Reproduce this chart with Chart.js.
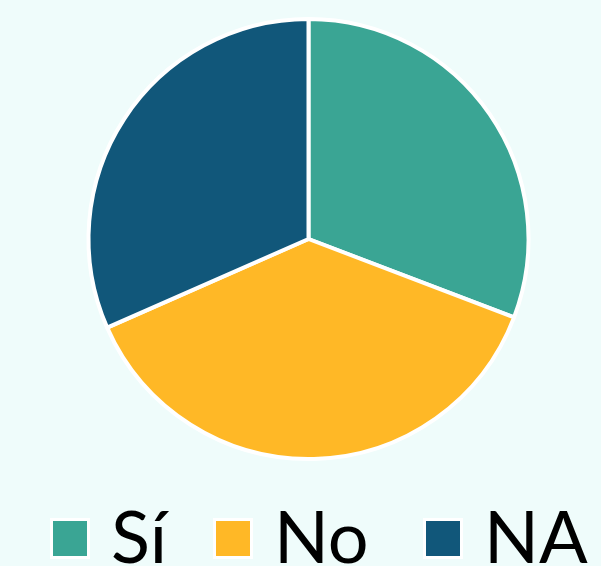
<!DOCTYPE html>
<html>
<head>
<meta charset="utf-8">
<script src="https://cdn.jsdelivr.net/npm/chart.js@4"></script>
<style>
  html, body { margin:0; padding:0; background:#effcfb; }
  #wrap { position:relative; width:601px; height:566px; overflow:hidden; }
  #c { position:absolute; left:0; top:0; }
  #legend { position:absolute; left:0; top:0; width:601px; height:566px; font-family:Lato, "Noto Sans", sans-serif; }
  .item { position:absolute; display:flex; align-items:center; height:60px; top:508px; }
  .box { width:34px; height:35px; border:3px solid #ffffff; box-sizing:content-box; }
  .lbl { font-size:72px; font-weight:400; color:#000; line-height:60px; margin-left:21px; white-space:nowrap; position:relative; top:-3px; }
</style>
</head>
<body>
<div id="wrap">
  <canvas id="c" width="601" height="566"></canvas>
  <div id="legend"></div>
</div>
<script>
const categories = ["Sí", "No", "NA"];
const values = [30.8, 37.6, 31.6];
const colors = ["#3aa594", "#ffb826", "#11577a"];
const legendLeft = [50, 213, 423];

const ctx = document.getElementById('c').getContext('2d');
new Chart(ctx, {
  type: 'pie',
  data: {
    labels: categories,
    datasets: [{
      data: values,
      backgroundColor: colors,
      borderColor: '#ffffff',
      borderWidth: 4
    }]
  },
  options: {
    responsive: false,
    animation: false,
    layout: { padding: { top: 17, bottom: 105, left: 16, right: 0 } },
    plugins: {
      legend: { display: false },
      tooltip: { enabled: false }
    }
  }
});

const lg = document.getElementById('legend');
categories.forEach((cat, i) => {
  const it = document.createElement('div');
  it.className = 'item';
  it.style.left = legendLeft[i] + 'px';
  const b = document.createElement('div');
  b.className = 'box';
  b.style.background = colors[i];
  const t = document.createElement('span');
  t.className = 'lbl';
  t.textContent = cat;
  it.appendChild(b);
  it.appendChild(t);
  lg.appendChild(it);
});
</script>
</body>
</html>
